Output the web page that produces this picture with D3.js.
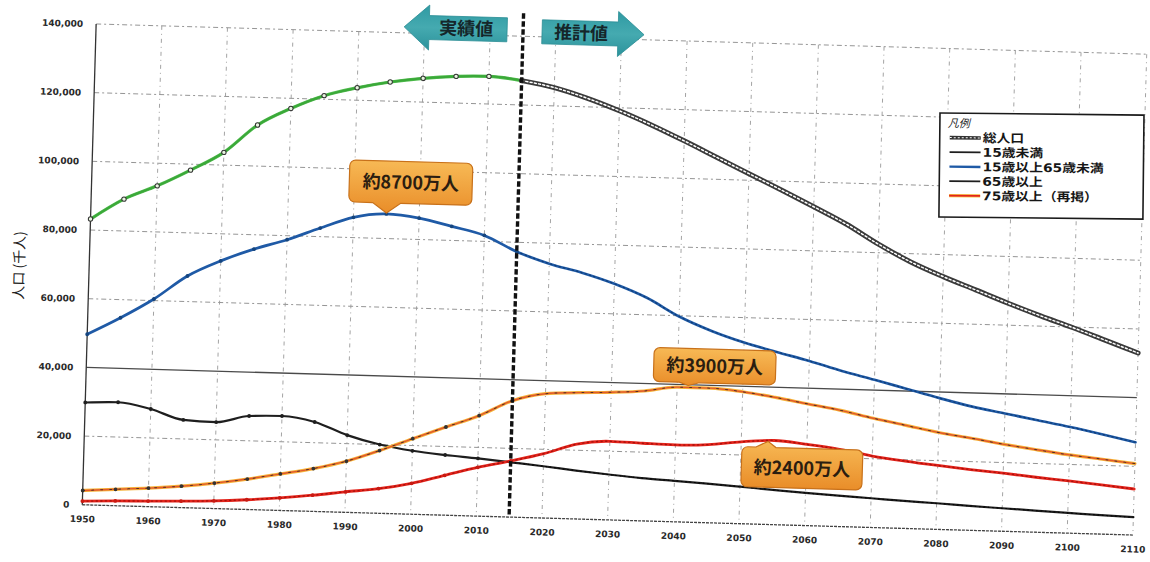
<!DOCTYPE html>
<html>
<head>
<meta charset="utf-8">
<script src="https://cdn.jsdelivr.net/npm/d3@7"></script>
<style>
  html, body { margin: 0; padding: 0; background: #fff; }
  svg { display: block; }
</style>
</head>
<body>
<svg id="chart" width="1150" height="562"></svg>
<script>
// Population of Japan by age group (thousands), actual values to 2015, projection after
const years = [1950,1955,1960,1965,1970,1975,1980,1985,1990,1995,2000,2005,2010,2015,
               2020,2025,2030,2035,2040,2045,2050,2055,2060,2065,2070,2075,2080,2085,2090,2095,2100,2105,2110];
const total = [83200,89276,93419,98275,103720,111940,117060,121049,123611,125570,126926,127768,128057,127095,
               125325,122544,119125,115216,110919,106421,101923,97441,92840,88077,82500,77600,73600,70000,66400,63000,59800,56400,53000];
const under15 = [29786,30123,28434,25529,25153,27221,27507,26033,22486,20014,18472,17521,16803,15945,
                 15075,14073,13212,12457,11936,11384,10767,10123,9508,8975,8500,8000,7600,7100,6700,6300,5900,5500,5200];
const working = [49658,54729,60469,67444,72119,75807,78835,82506,85904,87165,86220,84092,81735,77282,
                 74058,71701,68754,64942,59777,55845,52750,50276,47928,45291,43000,40600,38200,36000,34300,32600,30900,29000,27000];
const elderly65 = [4155,4786,5398,6236,7393,8865,10647,12468,14895,18261,22005,25672,29246,33868,
                   36192,36771,37160,37817,39206,39192,38406,37042,35403,33810,31800,30000,28200,26800,25300,24000,22800,21800,20800];
const elderly75 = [1069,1388,1629,1894,2237,2841,3660,4712,5973,7170,9008,11602,14194,16322,
                   18720,21800,22884,22597,22392,22767,23846,24493,23638,22478,20800,19600,18600,17700,16900,16000,15200,14300,13400];

const yTicks = [0,20000,40000,60000,80000,100000,120000,140000];
const xTicks = [1950,1960,1970,1980,1990,2000,2010,2020,2030,2040,2050,2060,2070,2080,2090,2100,2110];
const boundaryYear = 2015;
const yAxisTitle = "人口 (千人)";
const actualLabel = "実績値";
const projectionLabel = "推計値";
const legendTitle = "凡例";
const legendLabels = ["総人口","15歳未満","15歳以上65歳未満","65歳以上","75歳以上（再掲）"];
const calloutTexts = ["約8700万人","約3900万人","約2400万人"];

// ---- layout ----
const plot = {left: 89, right: 1140, top: 39, bottom: 520};
const tilt = 1.65, cx = 614.5, cy = 279.5;
const NUM_FONT = "'DejaVu Sans', sans-serif";
const JP_FONT = "'Noto Sans CJK JP', 'Noto Sans', sans-serif";
const LEGEND_FONT = "'DejaVu Sans', 'Noto Sans CJK JP', sans-serif";

const svg = d3.select("#chart");
const defs = svg.append("defs");
const grad = defs.append("linearGradient").attr("id","calloutFill")
  .attr("x1",0).attr("y1",0).attr("x2",0).attr("y2",1);
grad.append("stop").attr("offset","0%").attr("stop-color","#f7b955");
grad.append("stop").attr("offset","100%").attr("stop-color","#e98d29");
const arrowGrad = defs.append("linearGradient").attr("id","arrowFill")
  .attr("x1",0).attr("y1",0).attr("x2",0).attr("y2",1);
arrowGrad.append("stop").attr("offset","0%").attr("stop-color","#2f9aa3");
arrowGrad.append("stop").attr("offset","50%").attr("stop-color","#45aab0");
arrowGrad.append("stop").attr("offset","100%").attr("stop-color","#2b929b");

const g = svg.append("g").attr("transform", `rotate(${tilt},${cx},${cy})`);

const x = d3.scaleLinear().domain([1950, 2110]).range([plot.left, plot.right]);
const y = d3.scaleLinear().domain([0, 140000]).range([plot.bottom, plot.top]);

// ---- grid ----
const grid = g.append("g");
grid.selectAll("line.h").data(yTicks.filter(d => d > 0)).join("line")
  .attr("x1", plot.left).attr("x2", plot.right)
  .attr("y1", d => y(d)).attr("y2", d => y(d))
  .attr("stroke", d => d === 40000 ? "#4a4a4a" : "#8a8a8a")
  .attr("stroke-width", d => d === 40000 ? 1.3 : 0.9)
  .attr("stroke-dasharray", d => d === 40000 ? null : "5,3,2,3");
grid.selectAll("line.v").data(xTicks.filter(d => d > 1950)).join("line")
  .attr("x1", d => x(d)).attr("x2", d => x(d))
  .attr("y1", plot.top).attr("y2", plot.bottom)
  .attr("stroke", "#9a9a9a").attr("stroke-width", 0.9)
  .attr("stroke-dasharray", "4,4,1,4");

// axis lines
g.append("line").attr("x1", plot.left).attr("x2", plot.left)
  .attr("y1", plot.top).attr("y2", plot.bottom)
  .attr("stroke", "#333").attr("stroke-width", 1.3);
g.append("line").attr("x1", plot.left).attr("x2", plot.right)
  .attr("y1", plot.bottom).attr("y2", plot.bottom)
  .attr("stroke", "#444").attr("stroke-width", 1.3).attr("stroke-dasharray", "3,1");

// ---- axes ----
const yAxis = g.append("g").attr("transform", `translate(${plot.left},0)`)
  .call(d3.axisLeft(y).tickValues(yTicks).tickFormat(d3.format(",")).tickSize(0).tickPadding(13));
const xAxis = g.append("g").attr("transform", `translate(0,${plot.bottom})`)
  .call(d3.axisBottom(x).tickValues(xTicks).tickFormat(d3.format("d")).tickSize(0).tickPadding(11));
[yAxis, xAxis].forEach(a => {
  a.select(".domain").remove();
  a.selectAll("text").attr("font-family", NUM_FONT).attr("font-size", 9)
    .attr("font-weight", "bold").attr("fill", "#2a2a2a");
});

g.append("text")
  .attr("transform", `translate(18,${(plot.top + plot.bottom) / 2 + 3}) rotate(-90)`)
  .attr("text-anchor", "middle").attr("dominant-baseline", "central")
  .attr("font-family", JP_FONT).attr("font-size", 14).attr("fill", "#222")
  .text(yAxisTitle);

// ---- series ----
const rows = years.map((yr, i) => ({year: yr, total: total[i], under15: under15[i],
  working: working[i], e65: elderly65[i], e75: elderly75[i]}));
const lineOf = key => d3.line().x(d => x(d.year)).y(d => y(d[key])).curve(d3.curveMonotoneX);
const actual = rows.filter(d => d.year <= boundaryYear);
const projected = rows.filter(d => d.year >= boundaryYear);
const lines = g.append("g").attr("fill", "none").attr("stroke-linejoin", "round").attr("stroke-linecap", "round");

// under 15
lines.append("path").datum(rows).attr("d", lineOf("under15"))
  .attr("stroke", "#1e1e1e").attr("stroke-width", 2.2);
lines.append("path").datum(projected).attr("d", lineOf("under15"))
  .attr("stroke", "#000").attr("stroke-width", 1).attr("stroke-dasharray", "1,3.4");

// 75 and over
lines.append("path").datum(rows).attr("d", lineOf("e75"))
  .attr("stroke", "#e3241b").attr("stroke-width", 2.8);
lines.append("path").datum(rows).attr("d", lineOf("e75"))
  .attr("stroke", "#a80f0b").attr("stroke-width", 1.3).attr("stroke-dasharray", "1.2,3.4");

// 65 and over
lines.append("path").datum(rows).attr("d", lineOf("e65"))
  .attr("stroke", "#f5b338").attr("stroke-width", 3.2);
lines.append("path").datum(rows).attr("d", lineOf("e65"))
  .attr("stroke", "#e2582c").attr("stroke-width", 1.4);
lines.append("path").datum(rows).attr("d", lineOf("e65"))
  .attr("stroke", "#222").attr("stroke-width", 1).attr("stroke-dasharray", "2,7").attr("opacity", 0.75);

// 15 to 64
lines.append("path").datum(rows).attr("d", lineOf("working"))
  .attr("stroke", "#1f5aa6").attr("stroke-width", 2.7);
lines.append("path").datum(projected).attr("d", lineOf("working"))
  .attr("stroke", "#0f3d78").attr("stroke-width", 1.3).attr("stroke-dasharray", "1.2,3.3");

// total: green for actual, chained dark line for projection
lines.append("path").datum(projected).attr("d", lineOf("total"))
  .attr("stroke", "#3a3a3a").attr("stroke-width", 5);
lines.append("path").datum(projected).attr("d", lineOf("total"))
  .attr("stroke", "#fff").attr("stroke-width", 1.5).attr("stroke-dasharray", "2,2.3");
lines.append("path").datum(actual).attr("d", lineOf("total"))
  .attr("stroke", "#2f2f2f").attr("stroke-width", 2);
lines.append("path").datum(actual).attr("d", lineOf("total"))
  .attr("stroke", "#3cb63a").attr("stroke-width", 3.2).attr("opacity", 0.9);

// markers at the five-year points of actual values
const markers = g.append("g");
[["under15","#1e1e1e"],["e75","#c81a12"],["e65","#333"],["working","#15457f"]].forEach(([k, c]) => {
  markers.selectAll(null).data(actual).join("circle")
    .attr("cx", d => x(d.year)).attr("cy", d => y(d[k])).attr("r", 1.9).attr("fill", c);
});
markers.selectAll(null).data(actual).join("circle")
  .attr("cx", d => x(d.year)).attr("cy", d => y(d.total)).attr("r", 2.2)
  .attr("fill", "#e8f5e0").attr("stroke", "#333").attr("stroke-width", 1);

// ---- boundary between actual and projected values ----
const bx = x(boundaryYear);
g.append("line").attr("x1", bx).attr("x2", bx)
  .attr("y1", plot.top - 23).attr("y2", plot.bottom)
  .attr("stroke", "#111").attr("stroke-width", 3.4).attr("stroke-dasharray", "5.5,2.5");

function arrowPath(tipX, baseX, endX, midY, bodyH, headH) {
  return `M${tipX},${midY} L${baseX},${midY - headH} L${baseX},${midY - bodyH} L${endX},${midY - bodyH}` +
         ` L${endX},${midY + bodyH} L${baseX},${midY + bodyH} L${baseX},${midY + headH} Z`;
}
const arrowY = plot.top - 6;
const arrows = g.append("g");
arrows.append("path").attr("d", arrowPath(bx - 119, bx - 94, bx - 16, arrowY, 12, 22.5))
  .attr("fill", "url(#arrowFill)").attr("stroke", "#2a8d95").attr("stroke-width", 0.8);
arrows.append("path").attr("d", arrowPath(bx + 121, bx + 95, bx + 19, arrowY + 1, 12, 22.5))
  .attr("fill", "url(#arrowFill)").attr("stroke", "#2a8d95").attr("stroke-width", 0.8);
arrows.append("text").attr("x", bx - 57).attr("y", arrowY).attr("dy", "0.36em")
  .attr("text-anchor", "middle").attr("font-family", JP_FONT).attr("font-weight", "bold")
  .attr("font-size", 18).attr("fill", "#15262a").text(actualLabel);
arrows.append("text").attr("x", bx + 58).attr("y", arrowY + 1).attr("dy", "0.36em")
  .attr("text-anchor", "middle").attr("font-family", JP_FONT).attr("font-weight", "bold")
  .attr("font-size", 18).attr("fill", "#15262a").text(projectionLabel);

// ---- callouts ----
function calloutPath(b, p) {
  const r = 6, L = b.x, T = b.y, R = b.x + b.w, B = b.y + b.h;
  if (p.side === "bottom") {
    return `M${L + r},${T} H${R - r} A${r},${r} 0 0 1 ${R},${T + r} V${B - r} A${r},${r} 0 0 1 ${R - r},${B}` +
           ` H${p.b2} L${p.tx},${p.ty} L${p.b1},${B} H${L + r} A${r},${r} 0 0 1 ${L},${B - r} V${T + r}` +
           ` A${r},${r} 0 0 1 ${L + r},${T} Z`;
  }
  return `M${L + r},${T} H${p.b1} L${p.tx},${p.ty} L${p.b2},${T} H${R - r} A${r},${r} 0 0 1 ${R},${T + r}` +
         ` V${B - r} A${r},${r} 0 0 1 ${R - r},${B} H${L + r} A${r},${r} 0 0 1 ${L},${B - r} V${T + r}` +
         ` A${r},${r} 0 0 1 ${L + r},${T} Z`;
}
const idx = yr => years.indexOf(yr);
const calloutSpecs = [
  {text: calloutTexts[0], ax: x(1995), ay: y(working[idx(1995)]),
   box: [-38, -53, 123, 42], ptr: {side: "bottom", b1: -14, b2: 14, tx: 0, ty: -1}},
  {text: calloutTexts[1], ax: x(2040), ay: y(elderly65[idx(2040)]),
   box: [-24, -39, 122, 34], ptr: {side: "bottom", b1: 2, b2: 22, tx: 11, ty: -2}},
  {text: calloutTexts[2], ax: x(2055), ay: y(elderly75[idx(2055)]),
   box: [-32, 7, 121, 40], ptr: {side: "top", b1: -18, b2: 2, tx: -6, ty: 1}}
];
const callG = g.append("g");
calloutSpecs.forEach(c => {
  const b = {x: c.ax + c.box[0], y: c.ay + c.box[1], w: c.box[2], h: c.box[3]};
  const p = {side: c.ptr.side, b1: c.ax + c.ptr.b1, b2: c.ax + c.ptr.b2, tx: c.ax + c.ptr.tx, ty: c.ay + c.ptr.ty};
  callG.append("path").attr("d", calloutPath(b, p))
    .attr("fill", "url(#calloutFill)").attr("stroke", "#c8711a").attr("stroke-width", 1.2);
  callG.append("text").attr("x", b.x + b.w / 2).attr("y", b.y + b.h / 2).attr("dy", "0.36em")
    .attr("text-anchor", "middle").attr("font-family", JP_FONT).attr("font-weight", "bold")
    .attr("font-size", 18).attr("fill", "#2b1d10").text(c.text);
});

// ---- legend ----
const leg = svg.append("g").attr("transform", "translate(940,113) rotate(0.6)");
leg.append("rect").attr("width", 204).attr("height", 104)
  .attr("fill", "#fff").attr("stroke", "#1a1a1a").attr("stroke-width", 1.6);
leg.append("text").attr("x", 8).attr("y", 10).attr("dy", "0.36em")
  .attr("font-family", JP_FONT).attr("font-size", 11).attr("font-style", "italic")
  .attr("fill", "#222").text(legendTitle);
const legRowY = [24.5, 39, 53.5, 68, 82.5];
const legStyles = [
  [{c: "#333", w: 3.6}, {c: "#fff", w: 1, dash: "2,2"}],
  [{c: "#1e1e1e", w: 1.8}],
  [{c: "#1f5aa6", w: 2.4}],
  [{c: "#1e1e1e", w: 1.8}],
  [{c: "#f5c040", w: 3.2}, {c: "#e3241b", w: 1.8}]
];
legendLabels.forEach((lab, i) => {
  legStyles[i].forEach(s => {
    leg.append("line").attr("x1", 10).attr("x2", 41).attr("y1", legRowY[i]).attr("y2", legRowY[i])
      .attr("stroke", s.c).attr("stroke-width", s.w).attr("stroke-dasharray", s.dash || null);
  });
  // labels are drawn slightly wide, as in the printed legend
  leg.append("g").attr("transform", `translate(43,${legRowY[i]}) scale(1.15,1)`)
    .append("text").attr("dy", "0.36em")
    .attr("font-family", LEGEND_FONT).attr("font-weight", "bold").attr("font-size", 12)
    .attr("fill", "#161616").text(lab);
});
</script>
</body>
</html>
